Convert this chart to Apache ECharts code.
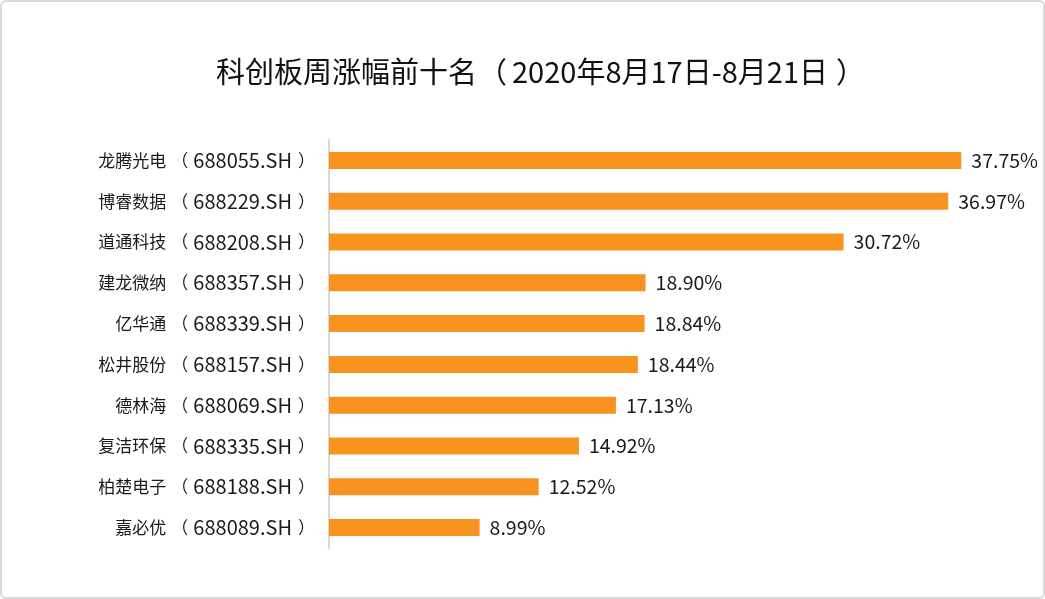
<!DOCTYPE html>
<html><head><meta charset="utf-8">
<script src="https://cdn.jsdelivr.net/npm/echarts@6/dist/echarts.min.js"></script>
<style>
html,body{margin:0;padding:0;background:#fff;}
#wrap{position:absolute;left:0;top:0;width:1041px;height:595px;border:2px solid #d9d9d9;border-radius:6px;}
#c{width:1045px;height:599px;position:absolute;left:0;top:0;}
</style></head>
<body><div id="wrap"></div><div id="c"></div>
<script>
var titleMain = '科创板周涨幅前十名';
var titleSub = '2020年8月17日-8月21日';
var names = ['龙腾光电','博睿数据','道通科技','建龙微纳','亿华通','松井股份','德林海','复洁环保','柏楚电子','嘉必优'];
var codes = ['688055.SH','688229.SH','688208.SH','688357.SH','688339.SH','688157.SH','688069.SH','688335.SH','688188.SH','688089.SH'];
var values = [37.75,36.97,30.72,18.90,18.84,18.44,17.13,14.92,12.52,8.99];

var categories = names.map(function(n,i){return n+'（'+codes[i]+'）';});
var F = 'Noto Sans CJK SC';
var chart = echarts.init(document.getElementById('c'));
chart.setOption({
  animation:false,
  title:{text:'{a|'+titleMain+'}{p|（}{a|'+titleSub+'}{q|）}',left:211,top:52,
    textStyle:{rich:{
      a:{fontFamily:F,fontSize:29,fontWeight:'normal',color:'#111'},
      p:{fontFamily:F,fontSize:29,fontWeight:'normal',color:'#111',padding:[0,5,0,1]},
      q:{fontFamily:F,fontSize:29,fontWeight:'normal',color:'#111',padding:[0,0,0,8]}
    }}},
  grid:{left:329,right:46,top:140,bottom:51,containLabel:false},
  xAxis:{type:'value',min:0,max:40,show:false},
  yAxis:{type:'category',inverse:true,data:categories,
    axisLine:{show:true,lineStyle:{color:'#d9d9d9',width:2}},
    axisTick:{show:false},
    axisLabel:{margin:14,
      formatter:function(v){
        var i=v.indexOf('（');
        return '{a|'+v.slice(0,i)+'}{p|（}{b|'+v.slice(i+1,v.length-1)+'}{q|）}';
      },
      rich:{
        a:{fontFamily:F,fontSize:17,color:'#1a1a1a'},
        b:{fontFamily:F,fontSize:20,color:'#1a1a1a'},
        p:{fontFamily:F,fontSize:17,color:'#1a1a1a',padding:[0,5,0,5]},
        q:{fontFamily:F,fontSize:17,color:'#1a1a1a',padding:[0,0,0,6]}
      }}},
  series:[{type:'bar',data:values,barWidth:17,
    itemStyle:{color:'#F7931E'},
    label:{show:true,position:'right',distance:10,fontFamily:F,fontSize:19.5,color:'#1a1a1a',
      formatter:function(p){return p.value.toFixed(2)+'%';}}}]
});
</script></body></html>
